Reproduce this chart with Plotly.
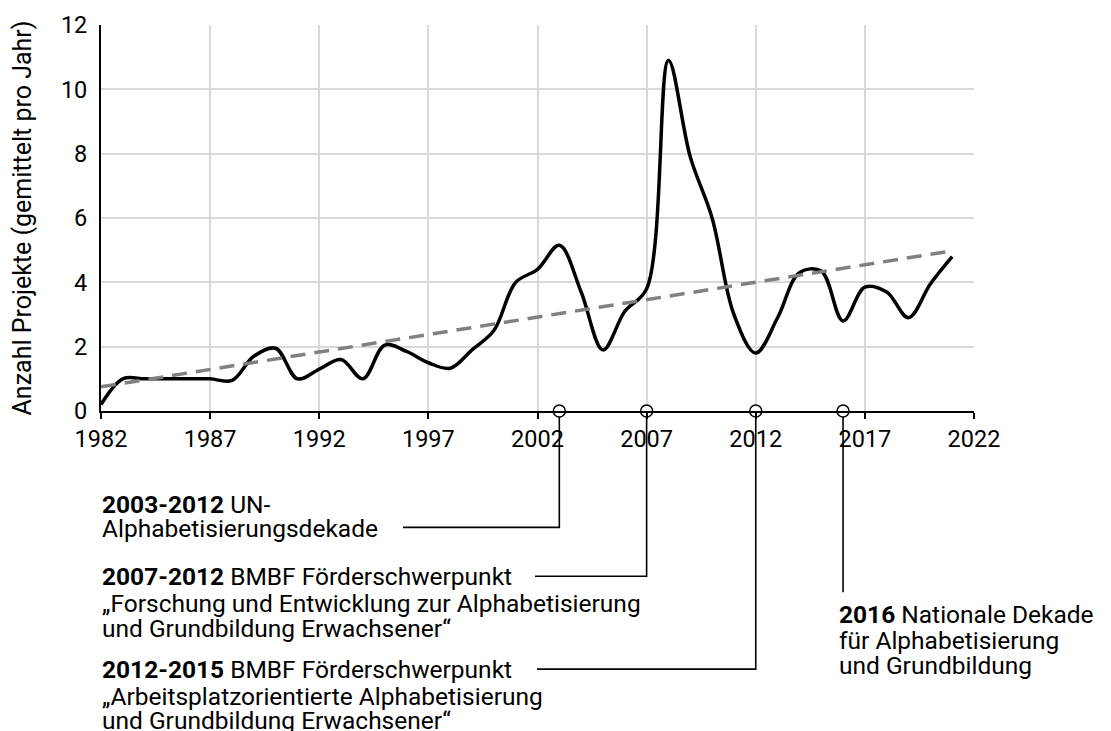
import plotly.graph_objects as go

years = list(range(1982, 2022))
projects = [0.2, 1.0, 1.0, 1.0, 1.0, 1.0, 0.95, 1.7, 1.95, 1.0,
            1.3, 1.6, 1.0, 2.05, 1.85, 1.5, 1.33, 1.9, 2.5, 4.0,
            4.4, 5.15, 3.7, 1.9, 3.1, 3.8, 10.9, 7.9, 6.0, 3.0,
            1.8, 2.9, 4.3, 4.35, 2.8, 3.85, 3.7, 2.9, 3.95, 4.8]
trend_x = [1982, 2021]
trend_y = [0.75, 4.98]

event_years = [2003, 2007, 2012, 2016]
event_lines = [
    ["<b>2003-2012</b> UN-", "Alphabetisierungsdekade"],
    ["<b>2007-2012</b> BMBF Förderschwerpunkt",
     "„Forschung und Entwicklung zur Alphabetisierung",
     "und Grundbildung Erwachsener“"],
    ["<b>2012-2015</b> BMBF Förderschwerpunkt",
     "„Arbeitsplatzorientierte Alphabetisierung",
     "und Grundbildung Erwachsener“"],
    ["<b>2016</b> Nationale Dekade", "für Alphabetisierung", "und Grundbildung"],
]

# ---- layout (window pixels; page body has an 8px margin) ----
OFF = 8
W, H = 1111 - OFF, 731 - OFF
plot_left, plot_right, plot_top, plot_bottom = 101, 974, 25, 411.5
L = plot_left - OFF
T = plot_top - OFF
R = W - (plot_right - OFF)
B = H - (plot_bottom - OFF)
PH = plot_bottom - plot_top
PW = plot_right - plot_left

def py(p):  # window pixel row -> paper y
    return (plot_bottom - p) / PH

def pxx(p):  # window pixel col -> paper x
    return (p - plot_left) / PW

text_left_px = [100, 100, 100, 837]
line_rows_px = [[505, 529], [577, 604, 629], [670, 697, 721], [615, 641, 666]]
elbow_row_px = [528, 577, 670, 593]
elbow_end_px = [403, 535, 537, None]

FONT = "Roboto"
x_min, x_max = 1982, 2022

fig = go.Figure()
fig.add_trace(go.Scatter(x=years, y=projects, mode="lines",
                         line=dict(color="black", width=3.5, shape="spline", smoothing=1.0),
                         showlegend=False, hoverinfo="skip"))
fig.add_trace(go.Scatter(x=trend_x, y=trend_y, mode="lines",
                         line=dict(color="#808080", width=3.5, dash="15px,9px"),
                         showlegend=False, hoverinfo="skip"))

shapes = []
for i, yr in enumerate(event_years):
    xp = (yr - x_min) / (x_max - x_min)
    ye = py(elbow_row_px[i])
    if elbow_end_px[i] is not None:
        path = f"M {xp},0 L {xp},{ye} L {pxx(elbow_end_px[i])},{ye}"
    else:
        path = f"M {xp},0 L {xp},{ye}"
    shapes.append(dict(type="path", xref="paper", yref="paper", path=path,
                       line=dict(color="black", width=1.6), layer="below"))

annotations = []
for i in range(len(event_years)):
    for j, line in enumerate(event_lines[i]):
        annotations.append(dict(xref="paper", yref="paper",
                                x=pxx(text_left_px[i]), y=py(line_rows_px[i][j]),
                                text=line, showarrow=False, align="left",
                                xanchor="left", yanchor="middle",
                                font=dict(family=FONT, size=24.5, color="black")))

fig.add_trace(go.Scatter(x=event_years, y=[0] * len(event_years), mode="markers",
                         marker=dict(symbol="circle", size=12, color="white",
                                     line=dict(color="black", width=1.5)),
                         cliponaxis=False, showlegend=False, hoverinfo="skip"))

fig.update_layout(
    width=W, height=H,
    margin=dict(l=L, r=R, t=T, b=B, autoexpand=False),
    plot_bgcolor="white", paper_bgcolor="white",
    font=dict(family=FONT, size=23.5, color="black"),
    shapes=shapes, annotations=annotations,
    xaxis=dict(range=[x_min, x_max], tickmode="array",
               tickvals=list(range(1982, 2023, 5)),
               showgrid=True, gridcolor="#d9d9d9", gridwidth=1.5,
               showline=True, linecolor="black", linewidth=2,
               ticks="outside", ticklen=6, tickwidth=2, tickcolor="black",
               zeroline=False, automargin=False, tickfont=dict(size=23.5)),
    yaxis=dict(range=[0, 12], tickmode="array", tickvals=list(range(0, 13, 2)),
               showgrid=True, gridcolor="#d9d9d9", gridwidth=1.5,
               showline=True, linecolor="black", linewidth=2,
               ticks="", zeroline=False, ticklabelstandoff=7, automargin=False,
               tickfont=dict(size=23.5),
               title=dict(text="Anzahl Projekte (gemittelt pro Jahr)",
                          font=dict(size=25), standoff=22)),
)

fig.write_html("out.html")
